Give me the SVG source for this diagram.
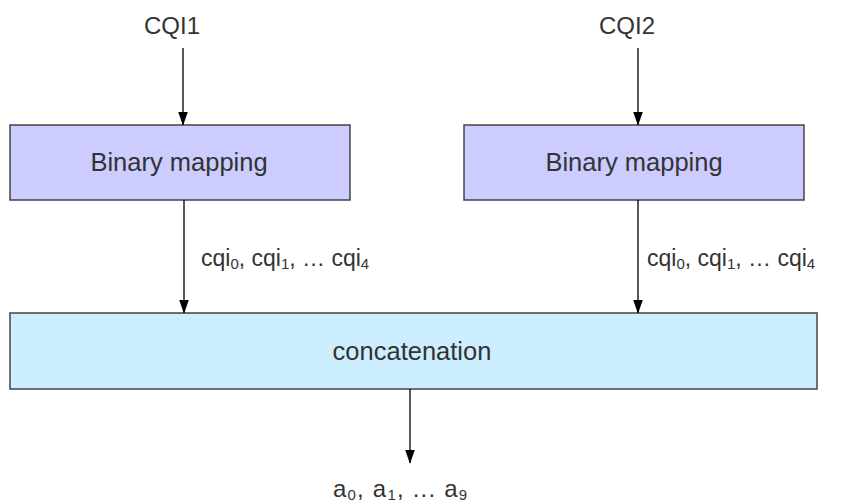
<svg xmlns="http://www.w3.org/2000/svg" width="843" height="504" viewBox="0 0 843 504">
<style>
text{font-family:"Liberation Sans",Arial,sans-serif;fill:#333;font-size:23px}
.big{font-size:24px}
.lbl{font-size:25.5px}
.box{fill:#ccccff;stroke:#444;stroke-width:1.5}
.cat{fill:#cceeff;stroke:#444;stroke-width:1.5}
.edge{stroke:#111;stroke-width:1.4;fill:none;marker-end:url(#ah)}
.sub{font-size:15px}
.out{font-size:24px;letter-spacing:1.2px}
</style>
<defs>
<marker id="ah" markerUnits="userSpaceOnUse" markerWidth="14" markerHeight="20" refX="19" refY="7" orient="auto" viewBox="0 0 20 14">
<path d="M0,0 L20,7 L0,14 z" fill="#000"/>
</marker>
</defs>
<g id="input1"><text class="big" x="172" y="34" text-anchor="middle">CQI1</text></g>
<g id="input2"><text class="big" x="627" y="34" text-anchor="middle">CQI2</text></g>
<g id="map1"><rect class="box" x="10" y="125" width="340" height="75"/><text class="lbl" x="179" y="171" text-anchor="middle">Binary mapping</text></g>
<g id="map2"><rect class="box" x="464" y="125" width="340" height="75"/><text class="lbl" x="634" y="171" text-anchor="middle">Binary mapping</text></g>
<g id="concat"><rect class="cat" x="10" y="313" width="807" height="76"/><text class="lbl" x="412" y="360" text-anchor="middle">concatenation</text></g>
<g id="output"><text class="out" x="333" y="497">a<tspan class="sub" dy="3">0</tspan><tspan dy="-3">, a</tspan><tspan class="sub" dy="3">1</tspan><tspan dy="-3">, ... a</tspan><tspan class="sub" dy="3">9</tspan></text></g>
<g id="connectors">
<path class="edge" d="M183,48 V125"/>
<path class="edge" d="M638,48 V125"/>
<path class="edge" d="M184,200 V313"/>
<path class="edge" d="M638,200 V313"/>
<path class="edge" d="M410,389 V463"/>
<text x="201" y="266">cqi<tspan class="sub" dy="3">0</tspan><tspan dy="-3">, cqi</tspan><tspan class="sub" dy="3">1</tspan><tspan dy="-3">, … cqi</tspan><tspan class="sub" dy="3">4</tspan></text>
<text x="647" y="266">cqi<tspan class="sub" dy="3">0</tspan><tspan dy="-3">, cqi</tspan><tspan class="sub" dy="3">1</tspan><tspan dy="-3">, … cqi</tspan><tspan class="sub" dy="3">4</tspan></text>
</g>
</svg>
